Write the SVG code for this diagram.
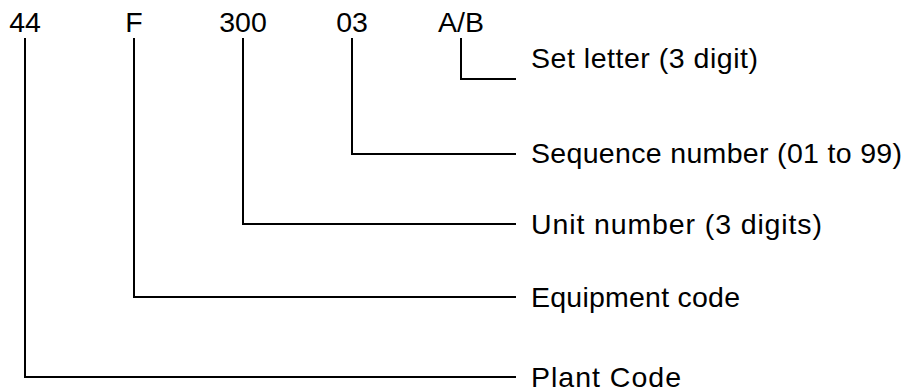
<svg xmlns="http://www.w3.org/2000/svg" width="904" height="392" viewBox="0 0 904 392">
<style>
  text { font-family: "Liberation Sans", Arial, sans-serif; font-size: 28.5px; fill: #000; }
  .code { text-anchor: middle; }
  .conn path { fill: none; stroke: #000; stroke-width: 2; }
</style>
<rect width="904" height="392" fill="#fff"/>
<g id="code-44"><text class="code" x="25" y="32">44</text></g>
<g id="code-F"><text class="code" x="134" y="32">F</text></g>
<g id="code-300"><text class="code" x="243" y="32">300</text></g>
<g id="code-03"><text class="code" x="352" y="32">03</text></g>
<g id="code-AB"><text class="code" x="461" y="32">A/B</text></g>
<g id="label-set"><text x="531" y="68" textLength="227" lengthAdjust="spacing">Set letter (3 digit)</text></g>
<g id="label-seq"><text x="531" y="163" textLength="371" lengthAdjust="spacing">Sequence number (01 to 99)</text></g>
<g id="label-unit"><text x="531" y="234" textLength="291" lengthAdjust="spacing">Unit number (3 digits)</text></g>
<g id="label-equip"><text x="531" y="307" textLength="209" lengthAdjust="spacing">Equipment code</text></g>
<g id="label-plant"><text x="531" y="387" textLength="150" lengthAdjust="spacing">Plant Code</text></g>
<g class="conn" id="connectors">
  <path d="M461,38 V79 H516"/>
  <path d="M352,38 V154 H516"/>
  <path d="M243,38 V224 H516"/>
  <path d="M134,38 V297 H516"/>
  <path d="M25,38 V377 H516"/>
</g>
</svg>
